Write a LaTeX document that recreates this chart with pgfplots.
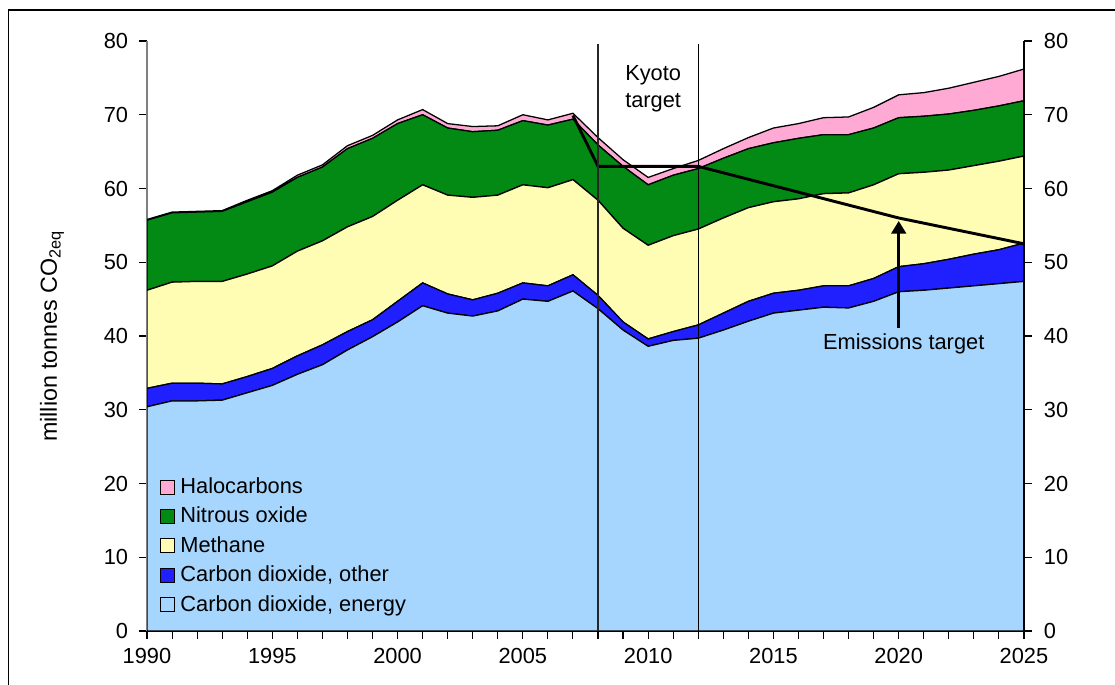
\documentclass[border=0pt]{standalone}
\usepackage{fontspec}
\setmainfont{Liberation Sans}
\usepackage{pgfplots}
\pgfplotsset{compat=1.18}
\usepackage{pgfplotstable}
\usetikzlibrary{arrows.meta}

\definecolor{cEnergy}{RGB}{166,214,253}
\definecolor{cOther}{RGB}{32,32,255}
\definecolor{cMethane}{RGB}{255,253,180}
\definecolor{cNitrous}{RGB}{3,138,21}
\definecolor{cHalo}{RGB}{255,170,212}

\pgfplotstableread{
year energy other methane nitrous halo
1990 30.4 2.5 13.3 9.5 0.1
1991 31.2 2.4 13.7 9.4 0.1
1992 31.2 2.4 13.8 9.4 0.1
1993 31.3 2.2 13.9 9.5 0.1
1994 32.3 2.2 13.9 9.8 0.2
1995 33.3 2.3 13.9 10.0 0.2
1996 34.8 2.5 14.2 10.0 0.3
1997 36.1 2.7 14.1 10.0 0.3
1998 38.1 2.5 14.2 10.6 0.4
1999 39.9 2.3 14.0 10.6 0.4
2000 41.9 2.8 13.7 10.4 0.5
2001 44.1 3.1 13.3 9.5 0.7
2002 43.1 2.6 13.4 9.1 0.6
2003 42.7 2.2 13.9 8.9 0.7
2004 43.4 2.4 13.3 8.8 0.6
2005 45.0 2.2 13.3 8.7 0.8
2006 44.7 2.1 13.3 8.5 0.7
2007 46.1 2.2 12.9 8.2 0.8
2008 43.7 1.8 12.9 7.5 1.0
2009 40.8 1.1 12.7 8.4 0.9
2010 38.6 1.0 12.7 8.2 1.0
2011 39.4 1.2 13.0 8.2 0.9
2012 39.7 1.8 13.0 8.2 1.1
2013 40.8 2.3 12.9 8.1 1.3
2014 42.0 2.7 12.7 8.0 1.5
2015 43.1 2.7 12.4 8.0 2.0
2016 43.5 2.7 12.4 8.2 2.0
2017 43.9 2.9 12.5 8.0 2.3
2018 43.8 3.0 12.6 7.9 2.4
2019 44.7 3.1 12.7 7.7 2.8
2020 46.0 3.4 12.6 7.6 3.1
2021 46.2 3.6 12.4 7.6 3.2
2022 46.5 3.9 12.1 7.6 3.5
2023 46.8 4.3 12.0 7.5 3.8
2024 47.1 4.6 12.0 7.5 4.0
2025 47.4 5.2 11.8 7.5 4.3
}\data

\newcommand{\ff}{\fontsize{12}{14}\selectfont}

\begin{document}
\begin{tikzpicture}
\useasboundingbox (0,0) rectangle (613.25pt,376.75pt);
\draw[line width=0.8pt] (4.6pt,-5pt) -- (4.6pt,371.2pt) -- (620pt,371.2pt);
\pgfplotsset{
  common/.style={
    scale only axis, width=482.35pt, height=324.5pt,
    xmin=1990, xmax=2025, ymin=0, ymax=80,
    at={(80.85pt,29.7pt)}, anchor=south west,
    ytick={0,10,...,80},
    tick align=outside, major tick length=4.4pt, minor tick length=4.4pt,
    tick style={black, line width=0.6pt},
    ticklabel style={font=\ff},
    /pgf/number format/assume math mode=true,
    /pgf/number format/1000 sep={},
  }
}
\begin{axis}[common,
  axis x line*=bottom, axis y line*=left,
  y axis line style={draw=gray, line width=0.8pt},
  x axis line style={draw=black, line width=1pt},
  xtick={1990,1995,...,2025}, minor xtick={1990,...,2025},
  xticklabel style={yshift=-1.5pt},
  yticklabel style={xshift=-2.5pt},
  stack plots=y,
  ylabel={million tonnes CO\textsubscript{2eq}},
  every axis y label/.style={at={(axis description cs:-0.1083,0.5)}, rotate=90, anchor=center, font=\fontsize{12.8}{15}\selectfont},
  legend style={at={(0.014,0.022)}, anchor=south west, draw=none, fill=none, font=\ff, row sep=2.0pt, inner sep=0pt,
    nodes={inner xsep=3.2pt}},
  legend cell align=left,
  reverse legend,
  legend image code/.code={\draw[#1,draw=black,line width=0.5pt] (0pt,-3.85pt) rectangle (7.7pt,3.85pt);},
]
\addplot[fill=cEnergy, draw=black, line width=0.7pt] table[x=year,y=energy]{\data} \closedcycle;
\addplot[fill=cOther, draw=black, line width=0.7pt] table[x=year,y=other]{\data} \closedcycle;
\addplot[fill=cMethane, draw=black, line width=0.7pt] table[x=year,y=methane]{\data} \closedcycle;
\addplot[fill=cNitrous, draw=black, line width=0.7pt] table[x=year,y=nitrous]{\data} \closedcycle;
\addplot[fill=cHalo, draw=black, line width=0.7pt] table[x=year,y=halo]{\data} \closedcycle;
\legend{{Carbon dioxide, energy}, {Carbon dioxide, other}, Methane, Nitrous oxide, Halocarbons}
\end{axis}
\begin{axis}[common,
  axis y line*=right, axis x line=none,
  y axis line style={draw=black, line width=0.6pt},
  yticklabel style={xshift=3pt},
  clip=false,
]
\addplot[black, line width=1.6pt] coordinates {(2007,69.9) (2008,63) (2012,63) (2020,56) (2025,52.5)};
\addplot[black!85, line width=0.6pt] coordinates {(2008,0) (2008,79.6)};
\addplot[black, line width=0.6pt] coordinates {(2012,0) (2012,79.6)};
\draw[line width=1.7pt, -{Triangle[width=8pt,length=7pt]}] (axis cs:2020,41.1) -- (axis cs:2020,55.6);
\node[font=\fontsize{12}{14.7}\selectfont, align=center] at (axis cs:2010.2,73.5) {Kyoto\\target};
\node[font=\ff] at (axis cs:2020.2,39.0) {Emissions target};
\end{axis}
\end{tikzpicture}
\end{document}
